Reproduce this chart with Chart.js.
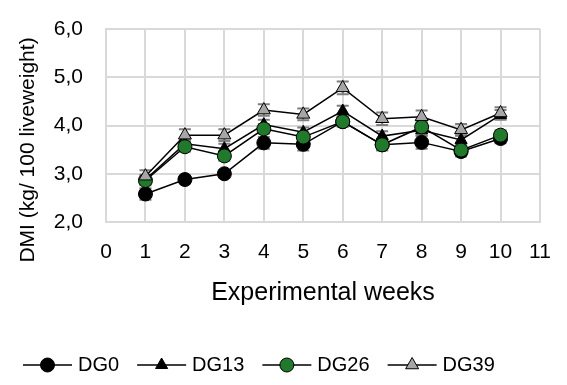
<!DOCTYPE html>
<html>
<head>
<meta charset="utf-8">
<script src="https://cdn.jsdelivr.net/npm/chart.js@4.4.1/dist/chart.umd.min.js"></script>
<style>
  html, body { margin: 0; padding: 0; background: #fff; }
  #wrap { width: 567px; height: 385px; position: relative; }
</style>
</head>
<body>
<div id="wrap"><canvas id="c" width="567" height="385"></canvas></div>
<script>
const weeks = [1, 2, 3, 4, 5, 6, 7, 8, 9, 10];
const seriesNames = ['DG0', 'DG13', 'DG26', 'DG39'];
const dg0  = [2.58, 2.88, 3.00, 3.64, 3.61, 4.08, 3.60, 3.65, 3.46, 3.73];
const dg13 = [2.88, 3.62, 3.52, 4.02, 3.86, 4.30, 3.78, 3.90, 3.70, 4.22];
const dg26 = [2.86, 3.56, 3.37, 3.93, 3.76, 4.08, 3.60, 3.97, 3.49, 3.80];
const dg39 = [2.95, 3.80, 3.80, 4.32, 4.23, 4.78, 4.14, 4.18, 3.91, 4.26];
const err0  = [0.12, 0.08, 0.08, 0.12, 0.13, 0.10, 0.12, 0.13, 0.10, 0.10];
const err13 = [0.10, 0.10, 0.10, 0.10, 0.10, 0.11, 0.10, 0.10, 0.10, 0.10];
const err26 = [0.10, 0.10, 0.10, 0.10, 0.10, 0.10, 0.10, 0.10, 0.10, 0.10];
const err39 = [0.12, 0.12, 0.12, 0.12, 0.12, 0.13, 0.13, 0.13, 0.12, 0.12];
const yTicks = [2, 3, 4, 5, 6];
const yTitle = 'DMI (kg/ 100 liveweight)';

const FONT = "'Liberation Sans', Arial, sans-serif";
const GRID = '#d9d9d9';
const ERR = '#7f7f7f';

function pts(vals) { return weeks.map((w, i) => ({ x: w, y: vals[i] })); }

const styles = [
  { style: 'circle',   bg: '#000000', r: 7, order: 4 },
  { style: 'triangle', bg: '#000000', r: 7, order: 3 },
  { style: 'circle',   bg: '#217a2b', r: 7, order: 2 },
  { style: 'triangle', bg: '#a6a6a6', r: 7.5, order: 1 }
];
const allVals = [dg0, dg13, dg26, dg39];
const allErr = [err0, err13, err26, err39];

const datasets = allVals.map((v, i) => ({
  label: seriesNames[i],
  data: pts(v),
  errors: allErr[i],
  borderColor: '#000',
  borderWidth: 1.5,
  pointStyle: styles[i].style,
  pointRadius: styles[i].r,
  pointHoverRadius: styles[i].r,
  pointBackgroundColor: styles[i].bg,
  pointBorderColor: '#000',
  pointBorderWidth: 1,
  order: styles[i].order,
  fill: false,
  tension: 0
}));

const errorBars = {
  id: 'errorBars',
  beforeDatasetsDraw(chart) {
    const ctx = chart.ctx;
    const xs = chart.scales.x, ys = chart.scales.y;
    ctx.save();
    ctx.strokeStyle = ERR;
    ctx.lineWidth = 2;
    chart.data.datasets.forEach(ds => {
      ds.data.forEach((p, i) => {
        const e = ds.errors[i];
        const x = xs.getPixelForValue(p.x);
        const yt = ys.getPixelForValue(p.y + e);
        const yb = ys.getPixelForValue(p.y - e);
        ctx.beginPath();
        ctx.moveTo(x, yt); ctx.lineTo(x, yb);
        ctx.moveTo(x - 6, yt); ctx.lineTo(x + 6, yt);
        ctx.moveTo(x - 6, yb); ctx.lineTo(x + 6, yb);
        ctx.stroke();
      });
    });
    ctx.restore();
  }
};

const yTitlePlugin = {
  id: 'yTitlePlugin',
  afterDraw(chart) {
    const ctx = chart.ctx;
    ctx.save();
    ctx.font = '21px ' + FONT;
    ctx.fillStyle = '#000';
    ctx.textAlign = 'center';
    ctx.textBaseline = 'middle';
    ctx.translate(28, 150);
    ctx.rotate(-Math.PI / 2);
    ctx.fillText(yTitle, 0, 0);
    ctx.restore();
  }
};

const customLegend = {
  id: 'customLegend',
  afterDraw(chart) {
    const ctx = chart.ctx;
    ctx.save();
    ctx.font = '20px ' + FONT;
    ctx.textBaseline = 'middle';
    let x = 23;
    const y = 365;
    chart.data.datasets.forEach(ds => {
      const len = 49;
      const cx = x + len / 2;
      ctx.strokeStyle = '#000';
      ctx.lineWidth = 1.5;
      ctx.beginPath();
      ctx.moveTo(x, y); ctx.lineTo(x + len, y);
      ctx.stroke();
      ctx.fillStyle = ds.pointBackgroundColor;
      ctx.lineWidth = 1;
      ctx.beginPath();
      const r = ds.pointRadius;
      if (ds.pointStyle === 'circle') {
        ctx.arc(cx, y, r, 0, Math.PI * 2);
      } else {
        ctx.moveTo(cx, y - r);
        ctx.lineTo(cx + r * 0.866, y + r * 0.5);
        ctx.lineTo(cx - r * 0.866, y + r * 0.5);
        ctx.closePath();
      }
      ctx.fill();
      ctx.stroke();
      ctx.fillStyle = '#000';
      const tx = x + len + 6;
      ctx.fillText(ds.label, tx, y);
      x = tx + ctx.measureText(ds.label).width + 18;
    });
    ctx.restore();
  }
};

new Chart(document.getElementById('c'), {
  type: 'line',
  data: { datasets },
  plugins: [errorBars, yTitlePlugin, customLegend],
  options: {
    responsive: false,
    animation: false,
    devicePixelRatio: 1,
    layout: { padding: { top: 29, right: 27, bottom: 63, left: 0 } },
    plugins: { legend: { display: false }, tooltip: { enabled: false } },
    scales: {
      x: {
        type: 'linear',
        min: 0, max: 11,
        afterFit(s) { s.height = 100; s.paddingLeft = 0; s.paddingRight = 0; },
        ticks: {
          stepSize: 1, padding: 18, color: '#000',
          font: { family: FONT, size: 21 },
          callback: v => String(v)
        },
        grid: { color: GRID, lineWidth: 2, drawTicks: false },
        border: { color: GRID, width: 2 },
        title: {
          display: true, text: 'Experimental weeks', color: '#000',
          font: { family: FONT, size: 25 },
          padding: { top: 0, bottom: 14 }
        }
      },
      y: {
        min: 2, max: 6,
        afterFit(s) { s.width = 106; s.paddingTop = 0; s.paddingBottom = 0; },
        afterBuildTicks(s) { s.ticks = yTicks.map(v => ({ value: v })); },
        ticks: {
          padding: 23, color: '#000',
          font: { family: FONT, size: 21 },
          callback: v => v.toFixed(1).replace('.', ',')
        },
        grid: { color: GRID, lineWidth: 2, drawTicks: false },
        border: { color: GRID, width: 2 }
      }
    }
  }
});
</script>
</body>
</html>
